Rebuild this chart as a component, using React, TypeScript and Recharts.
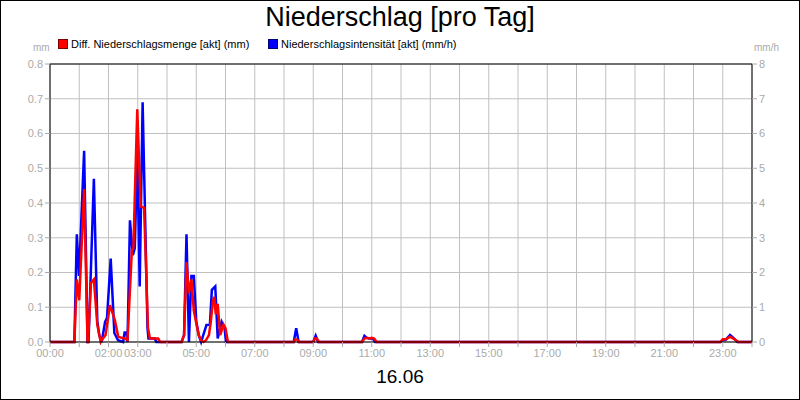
import React from 'react';
import {
  LineChart,
  Line,
  XAxis,
  YAxis,
  CartesianGrid,
  ReferenceLine,
} from 'recharts';

// minutes since midnight / values
const amountTimes = [
  0, 50, 55, 60, 70, 77, 78, 84, 90, 97, 104, 106, 114, 123, 133, 140, 147, 154,
  159, 168, 171, 179, 186, 193, 201, 205, 222, 226, 270, 275, 280, 285, 290, 295,
  300, 305, 310, 315, 320, 326, 330, 334, 337, 340, 344, 349, 356, 360, 365, 500,
  503, 507, 511, 540, 543, 547, 552, 640, 645, 650, 656, 660, 665, 670, 1375, 1380,
  1386, 1395, 1402, 1407, 1412, 1440,
];
const amountValues = [
  0, 0, 0.18, 0.12, 0.44, 0, 0, 0.17, 0.18, 0.05, 0, 0.005, 0.02, 0.106, 0.063,
  0.015, 0.012, 0.01, 0.005, 0.265, 0.27, 0.67, 0.39, 0.386, 0.04, 0.01, 0.01, 0,
  0, 0.02, 0.23, 0.14, 0.18, 0.09, 0.055, 0.02, 0.005, 0, 0.005, 0.02, 0.06, 0.116,
  0.13, 0.08, 0.11, 0.02, 0.05, 0.04, 0, 0, 0.007, 0.007, 0, 0, 0.01, 0.01, 0, 0,
  0.01, 0.012, 0.01, 0.012, 0.01, 0, 0, 0.008, 0.008, 0.015, 0.01, 0.005, 0, 0,
];

const intensityTimes = [
  0, 50, 55, 59.5, 70, 77, 79, 90, 97, 101, 106, 113, 117, 124.5, 132, 139.5, 150,
  153, 157, 159, 164, 170, 174, 179, 184, 190, 200, 202, 215, 218, 270, 275, 280,
  285, 290, 295, 300, 305, 310, 321, 328, 332, 339, 344, 352, 358, 361, 500, 505,
  510, 540, 545, 550, 640, 645, 650, 655, 662, 667, 1375, 1380, 1386, 1395, 1402,
  1410, 1440,
];
const intensityValues = [
  0, 0, 3.1, 1.9, 5.5, 0, 0, 4.7, 0.6, 0.2, 0, 0.58, 0.7, 2.4, 0.26, 0.05, 0,
  0.27, 0.27, 0, 3.5, 2.5, 2.7, 5.5, 1.6, 6.9, 0.4, 0.1, 0.1, 0, 0, 0.2, 3.1, 0,
  1.9, 1.9, 0.6, 0.2, 0, 0.49, 0.5, 1.5, 1.6, 0.1, 0.58, 0.4, 0, 0, 0.4, 0, 0,
  0.18, 0, 0, 0.18, 0.12, 0.1, 0.1, 0, 0, 0.05, 0.06, 0.2, 0.12, 0, 0,
];

const hourTicks = Array.from({ length: 25 }, (_, h) => h * 60);
const labeledHours = ['00:00', '02:00', '03:00', '05:00', '07:00', '09:00', '11:00',
  '13:00', '15:00', '17:00', '19:00', '21:00', '23:00'];
const mmTicks = [0, 0.1, 0.2, 0.3, 0.4, 0.5, 0.6, 0.7, 0.8];
const mmhTicks = [0, 1, 2, 3, 4, 5, 6, 7, 8];

const amountData = amountTimes.map((t, i) => ({ t, v: amountValues[i] }));
const intensityData = intensityTimes.map((t, i) => ({ t, v: intensityValues[i] }));

const FONT = '"Liberation Sans", Arial, sans-serif';
const GREY = '#aaaaaa';

const fmtHour = (m: number) => {
  const s = String(m / 60).padStart(2, '0') + ':00';
  return labeledHours.includes(s) ? s : '';
};

export default function App() {
  const tickStyle = { fill: GREY, fontSize: 11, fontFamily: FONT };
  return (
    <div style={{ position: 'relative', width: 800, height: 400, fontFamily: FONT }}>
      <style>{'body{margin:0}'}</style>
      <LineChart
        width={800}
        height={400}
        margin={{ top: 64, right: 8, bottom: 28, left: 10 }}
      >
        <CartesianGrid yAxisId="left" stroke="#c0c0c0" strokeWidth={1} />
        <XAxis
          dataKey="t"
          type="number"
          domain={[0, 1440]}
          ticks={hourTicks}
          interval={0}
          tickFormatter={fmtHour}
          height={30}
          stroke="#000"
          tickLine={{ stroke: GREY }}
          tickSize={5}
          tick={tickStyle}
        />
        <YAxis
          yAxisId="left"
          domain={[0, 0.8]}
          ticks={mmTicks}
          tickFormatter={(v: number) => v.toFixed(1)}
          width={40}
          stroke="#000"
          tickLine={{ stroke: GREY }}
          tickSize={5}
          tick={tickStyle}
        />
        <YAxis
          yAxisId="right"
          orientation="right"
          domain={[0, 8]}
          ticks={mmhTicks}
          width={40}
          stroke="#000"
          tickLine={{ stroke: GREY }}
          tickSize={5}
          tick={tickStyle}
        />
        <ReferenceLine yAxisId="left" y={0.8} stroke="#000" />
        <Line
          yAxisId="right"
          data={intensityData}
          dataKey="v"
          type="linear"
          stroke="#0000ff"
          strokeWidth={2.5}
          dot={false}
          isAnimationActive={false}
        />
        <Line
          yAxisId="left"
          data={amountData}
          dataKey="v"
          type="linear"
          stroke="#ff0000"
          strokeWidth={2.5}
          dot={false}
          isAnimationActive={false}
        />
      </LineChart>

      <div style={{ position: 'absolute', left: 0, top: 2, width: 800, textAlign: 'center', fontSize: 27 }}>
        Niederschlag [pro Tag]
      </div>
      <div style={{ position: 'absolute', left: 58, top: 38, fontSize: 11, display: 'flex', alignItems: 'center' }}>
        <span style={{ width: 8, height: 8, background: '#ff0000', border: '1px solid #800000', marginRight: 3 }} />
        Diff. Niederschlagsmenge [akt] (mm)
      </div>
      <div style={{ position: 'absolute', left: 268, top: 38, fontSize: 11, display: 'flex', alignItems: 'center' }}>
        <span style={{ width: 8, height: 8, background: '#0000ff', border: '1px solid #000080', marginRight: 3 }} />
        Niederschlagsintensität [akt] (mm/h)
      </div>
      <div style={{ position: 'absolute', left: 33, top: 42, fontSize: 10, color: GREY }}>mm</div>
      <div style={{ position: 'absolute', left: 754, top: 42, fontSize: 10, color: GREY }}>mm/h</div>
      <div style={{ position: 'absolute', left: 0, top: 366, width: 800, textAlign: 'center', fontSize: 19 }}>
        16.06
      </div>
      <div style={{ position: 'absolute', left: 0, top: 0, width: 800, height: 400, boxSizing: 'border-box', border: '1px solid #000', pointerEvents: 'none' }} />
    </div>
  );
}
